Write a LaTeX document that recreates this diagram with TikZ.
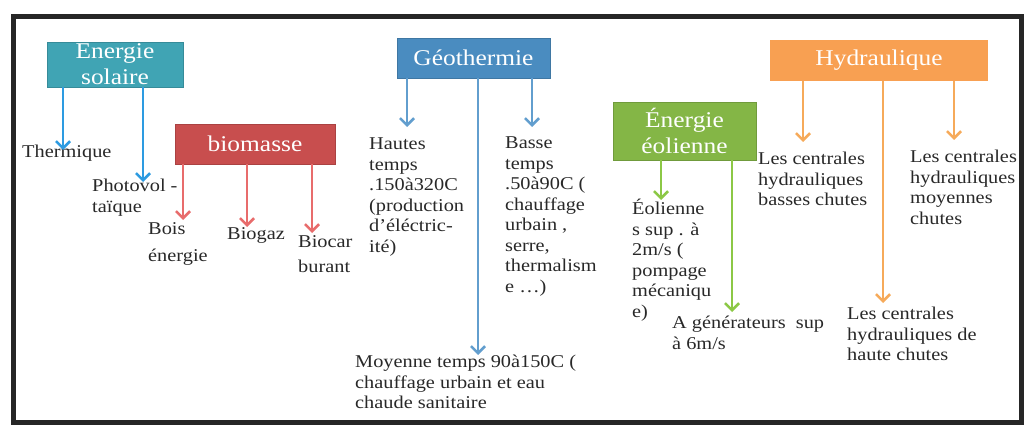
\documentclass[tikz,border=0pt]{standalone}
\usepackage{fontspec}
\setmainfont{Liberation Serif}[FakeStretch=1.13]
\usetikzlibrary{arrows.meta}
\definecolor{csol}{RGB}{64,164,180}
\definecolor{csolar}{RGB}{45,155,225}
\definecolor{cbio}{RGB}{200,78,78}
\definecolor{cbioar}{RGB}{232,108,108}
\definecolor{cgeo}{RGB}{74,140,192}
\definecolor{cgeoar}{RGB}{98,158,206}
\definecolor{ceol}{RGB}{132,182,70}
\definecolor{ceolar}{RGB}{140,200,70}
\definecolor{chyd}{RGB}{248,160,82}
\definecolor{chydar}{RGB}{246,170,90}
\definecolor{ctxt}{RGB}{40,40,40}

\begin{document}
\begin{tikzpicture}[x=1pt, y=-1pt, >={Straight Barb[length=7pt,width=14pt]},
  box/.style={draw=#1!85!black, line width=0.8pt, fill=#1, text=white, inner sep=0pt,
    align=center, font=\fontsize{22.5}{26}\selectfont},
  lbl/.style={anchor=north west, inner sep=0pt, align=left, text=ctxt,
    font=\fontsize{18}{20.5}\selectfont},
  arr/.style={->, #1, line width=2.6pt}]
\useasboundingbox (0,0) rectangle (1026,425);
\draw[line width=5pt, black!85] (13,17) rectangle (1021,422);

% sources
\node[box=csol, minimum width=136pt, minimum height=45pt] (sol) at (115,64.5) {Energie\\solaire};
\node[box=cbio, minimum width=160pt, minimum height=40pt] (bio) at (255,144) {biomasse};
\node[box=cgeo, minimum width=153pt, minimum height=40pt] (geo) at (473.5,58) {Géothermie};
\node[box=ceol, minimum width=143pt, minimum height=58pt] (eol) at (684.5,131) {Énergie\\éolienne};
\node[box=chyd, draw=none, minimum width=218pt, minimum height=41pt] (hyd) at (879,60.5) {Hydraulique};

% arrow tips
\coordinate (tTh) at (63,150);
\coordinate (tPv) at (143,182);
\coordinate (tBois) at (183,220);
\coordinate (tBgz) at (247,227);
\coordinate (tBcar) at (312,233);
\coordinate (tHts) at (407,127);
\coordinate (tBss) at (532,127);
\coordinate (tMoy) at (478,355);
\coordinate (tEo1) at (661,200);
\coordinate (tEo2) at (732,312);
\coordinate (tHb) at (803,142);
\coordinate (tHm) at (954,140);
\coordinate (tHh) at (883,303);

% texts
\node[lbl] (th) at (22,145) {Thermique};
\node[lbl] (pv) at (92,179) {Photovol -\\taïque};
\node[lbl, font=\fontsize{18}{27}\selectfont] (bois) at (148,222) {Bois\\énergie};
\node[lbl] (bgz) at (227,227) {Biogaz};
\node[lbl, font=\fontsize{18}{25}\selectfont] (bcar) at (298,235) {Biocar\\burant};
\node[lbl] (hts) at (369,138) {Hautes\\temps\\.150à320C\\(production\\d’éléctric-\\ité)};
\node[lbl] (bss) at (505,137) {Basse\\temps\\.50à90C (\\chauffage\\urbain ,\\serre,\\thermalism\\e \dots)};
\node[lbl] (moy) at (355,355) {Moyenne temps 90à150C (\\chauffage urbain et eau\\chaude sanitaire};
\node[lbl] (eo1) at (632,199) {Éolienne\\s sup . à\\2m/s (\\pompage\\mécaniqu\\e)};
\node[lbl] (eo2) at (672,316) {A générateurs\ \ sup\\à 6m/s};
\node[lbl] (hb) at (758,152) {Les centrales\\hydrauliques\\basses chutes};
\node[lbl] (hm) at (910,150) {Les centrales\\hydrauliques\\moyennes\\chutes};
\node[lbl] (hh) at (847,307) {Les centrales\\hydrauliques de\\haute chutes};

% connectors
\draw[arr=csolar] (sol.south -| tTh) -- (tTh);
\draw[arr=csolar] (sol.south -| tPv) -- (tPv);
\draw[arr=cbioar] (bio.south -| tBois) -- (tBois);
\draw[arr=cbioar] (bio.south -| tBgz) -- (tBgz);
\draw[arr=cbioar] (bio.south -| tBcar) -- (tBcar);
\draw[arr=cgeoar] (geo.south -| tHts) -- (tHts);
\draw[arr=cgeoar] (geo.south -| tBss) -- (tBss);
\draw[arr=cgeoar] (geo.south -| tMoy) -- (tMoy);
\draw[arr=ceolar] (eol.south -| tEo1) -- (tEo1);
\draw[arr=ceolar] (eol.south -| tEo2) -- (tEo2);
\draw[arr=chydar] (hyd.south -| tHb) -- (tHb);
\draw[arr=chydar] (hyd.south -| tHm) -- (tHm);
\draw[arr=chydar] (hyd.south -| tHh) -- (tHh);
\end{tikzpicture}
\end{document}
